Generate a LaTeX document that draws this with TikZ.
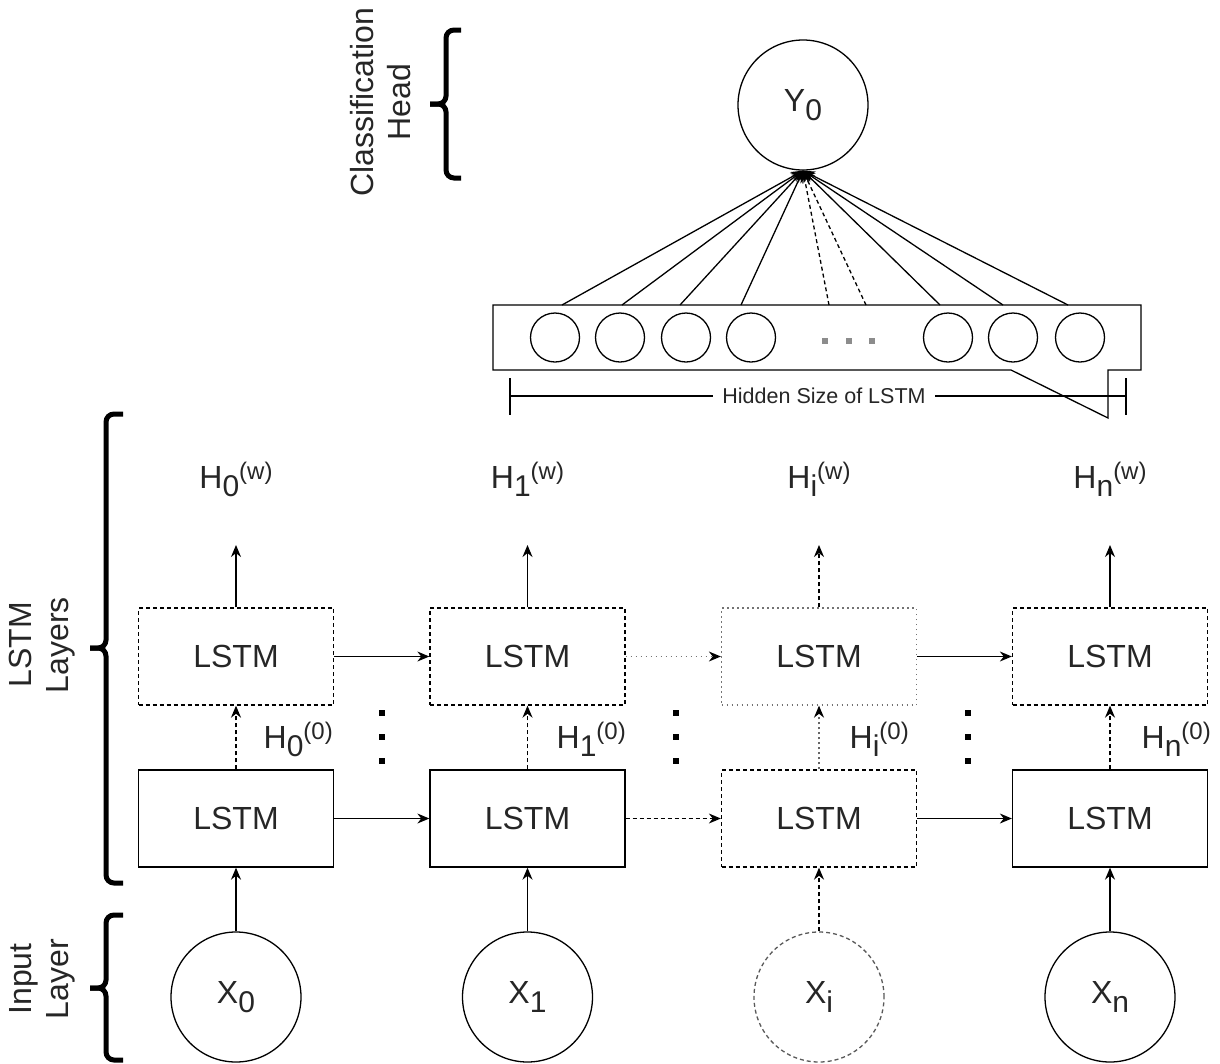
\documentclass[tikz,border=0pt]{standalone}
\usepackage{fontspec}
\setmainfont{Liberation Sans}
\usetikzlibrary{arrows.meta}

% subscript / superscript pieces of the labels, set inline after the letter
\newcommand\lsub[1]{\raisebox{-0.26em}{\fontsize{30}{30}\selectfont #1}}
\newcommand\lsup[1]{\raisebox{0.28em}{\fontsize{24}{24}\selectfont #1}}

\begin{document}
\begin{tikzpicture}[x=1pt,y=-1pt,
  line width=1.3pt,
  >={Stealth[length=12pt,width=10pt]},
  every node/.style={text=black!85, font=\fontsize{32}{37}\selectfont},
  lstmbox/.style={draw, minimum width=195pt, minimum height=97pt, inner sep=0pt},
  neuron/.style={draw, circle, minimum size=130pt, inner sep=0pt},
  unit/.style={draw, circle, minimum size=49pt, inner sep=0pt},
  lbl/.style={inner sep=0pt},
  dashline/.style={dash pattern=on 4pt off 3pt},
  dotline/.style={dash pattern=on 1.5pt off 3.5pt, draw=black!55},
  thinline/.style={dash pattern=on 2pt off 3pt, draw=black!60},
  vdot/.style={fill=black, minimum size=6pt, inner sep=0pt},
  gdot/.style={fill=black!45, minimum size=6pt, inner sep=0pt},
  curly/.style={line width=5pt, rounded corners=8pt},
  blackhead/.style={-{Stealth[length=12pt,width=10pt,color=black]}},
]
\useasboundingbox (0,0) rectangle (1220,1063);

% ---------- LSTM cells ----------
\node[lstmbox] (b0) at (236,818.5) {LSTM};
\node[lstmbox] (b1) at (527.5,818.5) {LSTM};
\node[lstmbox, dashline] (b2) at (819,818.5) {LSTM};
\node[lstmbox] (b3) at (1110,818.5) {LSTM};

\node[lstmbox, dashline] (t0) at (236,656.5) {LSTM};
\node[lstmbox, dashline] (t1) at (527.5,656.5) {LSTM};
\node[lstmbox, dotline] (t2) at (819,656.5) {LSTM};
\node[lstmbox, dashline] (t3) at (1110,656.5) {LSTM};

% ---------- inputs ----------
\node[neuron] (x0) at (236,997) {X\lsub{0}};
\node[neuron] (x1) at (527.5,997) {X\lsub{1}};
\node[neuron, dashline, draw=black!65] (x2) at (819,997) {X\lsub{i}};
\node[neuron] (x3) at (1110,997) {X\lsub{n}};

\draw[->] (x0) -- (b0);
\draw[->] (x1) -- (b1);
\draw[->, dashline] (x2) -- (b2);
\draw[->] (x3) -- (b3);

% ---------- recurrence along the sequence ----------
\draw[->] (b0) -- (b1);
\draw[->, dashline] (b1) -- (b2);
\draw[->] (b2) -- (b3);
\draw[->] (t0) -- (t1);
\draw[blackhead, dotline] (t1) -- (t2);
\draw[->] (t2) -- (t3);

% ---------- between layers ----------
\draw[->, dashline] (b0) -- (t0);
\draw[->, dashline] (b1) -- (t1);
\draw[blackhead, thinline] (b2) -- (t2);
\draw[->, dashline] (b3) -- (t3);

\node[lbl, anchor=base west] (h00) at (263,748) {H\lsub{0}\lsup{(0)}};
\node[lbl, anchor=base west] (h10) at (556,748) {H\lsub{1}\lsup{(0)}};
\node[lbl, anchor=base west] (hi0) at (849,748) {H\lsub{i}\lsup{(0)}};
\node[lbl, anchor=base west] (hn0) at (1141,748) {H\lsub{n}\lsup{(0)}};

\foreach \dx in {381.5, 676, 968} {
  \node[vdot] at (\dx,713) {};
  \node[vdot] at (\dx,737) {};
  \node[vdot] at (\dx,761) {};
}

% ---------- outputs of the last layer ----------
\coordinate (u0) at (236,545);
\coordinate (u1) at (527.5,545);
\coordinate (u2) at (819,545);
\coordinate (u3) at (1110,545);
\draw[->] (t0) -- (u0);
\draw[->] (t1) -- (u1);
\draw[->, dashline] (t2) -- (u2);
\draw[->] (t3) -- (u3);

\node[lbl, anchor=base] (hw0) at (236,488) {H\lsub{0}\lsup{(w)}};
\node[lbl, anchor=base] (hw1) at (527.5,488) {H\lsub{1}\lsup{(w)}};
\node[lbl, anchor=base] (hwi) at (819,488) {H\lsub{i}\lsup{(w)}};
\node[lbl, anchor=base] (hwn) at (1110,488) {H\lsub{n}\lsup{(w)}};

% ---------- hidden state vector ----------
\draw[fill=white] (493,305) -- (1141,305) -- (1141,370) -- (1108,370) -- (1108,418)
  -- (1011,370) -- (493,370) -- cycle;
\node[unit] (c1) at (555,337.5) {};
\node[unit] (c2) at (620,337.5) {};
\node[unit] (c3) at (686,337.5) {};
\node[unit] (c4) at (751,337.5) {};
\node[unit] (c5) at (948,337.5) {};
\node[unit] (c6) at (1013,337.5) {};
\node[unit] (c7) at (1080,337.5) {};
\node[gdot] at (825,341) {};
\node[gdot] at (849,341) {};
\node[gdot] at (872,341) {};

% dimension line
\draw (510,378) -- (510,415);
\draw (1126,378) -- (1126,415);
\draw (510,396) -- (1126,396);
\node[fill=white, inner xsep=9pt, inner ysep=2pt, font=\fontsize{21.5}{22}\selectfont]
  (hs) at (824,396) {Hidden Size of LSTM};

% ---------- classification head ----------
\node[neuron] (y) at (803,105) {Y\lsub{0}};
\foreach \fx/\nm in {562/f1, 622/f2, 680/f3, 741/f4, 940/f7, 1003/f8, 1068/f9} {
  \coordinate (\nm) at (\fx,305);
  \draw[->] (\nm) -- (y.south);
}
\coordinate (f5) at (829,305);
\coordinate (f6) at (866,305);
\draw[->, dashline] (f5) -- (y.south);
\draw[->, dashline] (f6) -- (y.south);

% ---------- braces and group names ----------
% each brace: two halves meeting at the tip
\draw[curly] (461,30) -- (446,30) -- (446,104) -- (430,104);
\draw[curly] (461,178) -- (446,178) -- (446,104) -- (430,104);
\draw[curly] (123,414) -- (106,414) -- (106,648) -- (90,648);
\draw[curly] (123,883) -- (106,883) -- (106,648) -- (90,648);
\draw[curly] (123,915) -- (106,915) -- (106,988) -- (90,988);
\draw[curly] (123,1060) -- (106,1060) -- (106,988) -- (90,988);

\node[lbl, rotate=90, align=center] (gh) at (381,102) {Classification\\Head};
\node[lbl, rotate=90, align=center] (gl) at (42,645) {LSTM\\Layers};
\node[lbl, rotate=90, align=center] (gi) at (42,979) {Input\\Layer};
\end{tikzpicture}
\end{document}
